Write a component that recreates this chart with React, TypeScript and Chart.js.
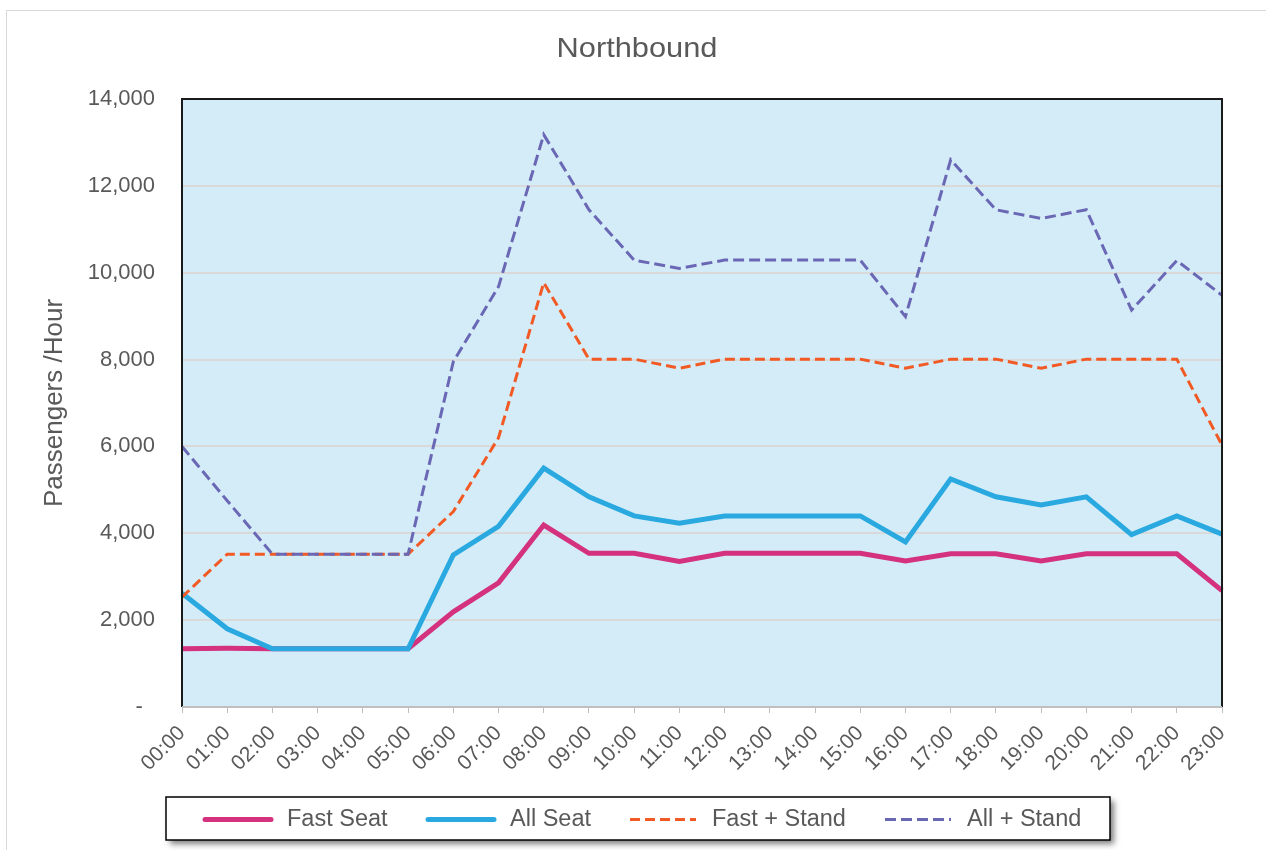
import React, { useEffect, useRef } from "react";
import { Chart, registerables } from "chart.js";

Chart.register(...registerables);

const hours = ["00:00","01:00","02:00","03:00","04:00","05:00","06:00","07:00","08:00","09:00","10:00","11:00","12:00","13:00","14:00","15:00","16:00","17:00","18:00","19:00","20:00","21:00","22:00","23:00"];
const fastSeat = [1340,1350,1340,1340,1340,1340,2190,2860,4190,3540,3540,3350,3540,3540,3540,3540,3360,3530,3530,3360,3530,3530,3530,2680];
const allSeat = [2620,1800,1340,1340,1340,1340,3500,4160,5500,4840,4400,4230,4400,4400,4400,4400,3800,5250,4840,4650,4840,3970,4400,3980];
const fastStand = [2530,3520,3520,3520,3520,3520,4500,6200,9770,8010,8010,7800,8010,8010,8010,8010,7800,8010,8010,7800,8010,8010,8010,6030];
const allStand = [6000,4750,3520,3520,3520,3520,7950,9680,13180,11450,10290,10100,10290,10290,10290,10290,8990,12600,11450,11250,11450,9140,10280,9480];
const seriesNames = ["Fast Seat", "All Seat", "Fast + Stand", "All + Stand"];
const seriesColors = ["#D4317F", "#29A9E0", "#F15A24", "#6A68B5"];

const FONT = "'Liberation Sans', Arial, sans-serif";
const TEXT = "#595959";

export default function App() {
  const ref = useRef<HTMLCanvasElement | null>(null);

  useEffect(() => {
    const canvas = ref.current!;
    const decor = {
      id: "decor",
      beforeDraw(chart: any) {
        const { ctx, chartArea: a } = chart;
        ctx.save();
        ctx.fillStyle = "#ffffff";
        ctx.fillRect(0, 0, chart.width, chart.height);
        ctx.strokeStyle = "#D9D9D9";
        ctx.lineWidth = 1;
        ctx.strokeRect(6.5, 10.5, chart.width + 10, chart.height + 10);
        ctx.fillStyle = "#D4ECF7";
        ctx.fillRect(a.left, a.top, a.right - a.left, a.bottom - a.top);
        // title, fitted to the reference width
        ctx.fillStyle = TEXT;
        ctx.font = `28px ${FONT}`;
        ctx.textAlign = "center";
        ctx.textBaseline = "middle";
        const w = ctx.measureText("Northbound").width;
        const sx = 161 / w;
        ctx.translate(637, 49);
        ctx.scale(sx, 1);
        ctx.fillText("Northbound", 0, 0);
        ctx.restore();
      },
      afterDatasetsDraw(chart: any) {
        const { ctx, chartArea: a } = chart;
        ctx.save();
        ctx.lineWidth = 2;
        ctx.strokeStyle = "#1a1a1a";
        ctx.beginPath();
        ctx.moveTo(a.left, a.bottom);
        ctx.lineTo(a.left, a.top);
        ctx.lineTo(a.right, a.top);
        ctx.lineTo(a.right, a.bottom);
        ctx.stroke();
        ctx.strokeStyle = "#BFBFBF";
        ctx.beginPath();
        ctx.moveTo(a.left, a.bottom);
        ctx.lineTo(a.right, a.bottom);
        ctx.stroke();
        ctx.restore();
      },
      afterDraw(chart: any) {
        const { ctx } = chart;
        ctx.save();
        const bx = 166, by = 797, bw = 944, bh = 43;
        ctx.shadowColor = "rgba(0,0,0,0.5)";
        ctx.shadowBlur = 6;
        ctx.shadowOffsetX = 4;
        ctx.shadowOffsetY = 4;
        ctx.fillStyle = "#ffffff";
        ctx.fillRect(bx, by, bw, bh);
        ctx.shadowColor = "transparent";
        ctx.strokeStyle = "#000000";
        ctx.lineWidth = 1.5;
        ctx.strokeRect(bx, by, bw, bh);
        const starts = [205, 428, 630, 885];
        const cy = by + bh / 2 + 1;
        chart.data.datasets.forEach((ds: any, i: number) => {
          ctx.beginPath();
          ctx.strokeStyle = ds.borderColor;
          ctx.lineWidth = ds.borderWidth;
          ctx.setLineDash(ds.borderDash || []);
          ctx.lineCap = ds.borderDash ? "butt" : "round";
          ctx.moveTo(starts[i], cy);
          ctx.lineTo(starts[i] + 66, cy);
          ctx.stroke();
          ctx.setLineDash([]);
          ctx.fillStyle = TEXT;
          ctx.font = `23.5px ${FONT}`;
          ctx.textAlign = "left";
          ctx.textBaseline = "middle";
          ctx.fillText(ds.label, starts[i] + 82, cy);
        });
        ctx.restore();
      },
    };

    const mk = (i: number, data: number[], width: number, dash?: number[]) => ({
      label: seriesNames[i],
      data,
      borderColor: seriesColors[i],
      backgroundColor: seriesColors[i],
      borderWidth: width,
      borderDash: dash,
      pointRadius: 0,
      tension: 0,
      fill: false,
      order: 3 - i,
    });

    const chart = new Chart(canvas, {
      type: "line",
      data: {
        labels: hours,
        datasets: [
          mk(0, fastSeat, 5),
          mk(1, allSeat, 5),
          mk(2, fastStand, 3, [10, 5]),
          mk(3, allStand, 3, [11, 5]),
        ],
      },
      options: {
        responsive: false,
        animation: false,
        layout: { padding: { top: 99, left: 30, right: 44, bottom: 0 } },
        plugins: { legend: { display: false }, title: { display: false }, tooltip: { enabled: false } },
        scales: {
          x: {
            type: "category",
            offset: false,
            afterFit: (s: any) => { s.height = 143; },
            grid: { drawOnChartArea: false, drawTicks: true, tickLength: 6, color: "#BFBFBF", lineWidth: 1 },
            border: { display: false },
            ticks: {
              color: TEXT,
              font: { family: FONT, size: 21 },
              minRotation: 45,
              maxRotation: 45,
              autoSkip: false,
              padding: 8,
            },
          },
          y: {
            min: 0,
            max: 14000,
            afterFit: (s: any) => { s.width = 152; },
            grid: { color: "#D9D9D9", lineWidth: 2, drawTicks: false },
            border: { display: false },
            ticks: {
              stepSize: 2000,
              color: TEXT,
              font: { family: FONT, size: 22 },
              padding: 27,
              callback: (v: any) => (Number(v) === 0 ? "-  " : Number(v).toLocaleString("en-US")),
            },
            title: {
              display: true,
              text: "Passengers /Hour",
              color: TEXT,
              font: { family: FONT, size: 26 },
              padding: { top: 9, bottom: 0 },
            },
          },
        },
      },
      plugins: [decor],
    });
    return () => chart.destroy();
  }, []);

  return (
    <div style={{ position: "absolute", left: 0, top: 0, width: 1266, height: 850 }}>
      <canvas ref={ref} width={1266} height={850} style={{ display: "block" }} />
    </div>
  );
}
